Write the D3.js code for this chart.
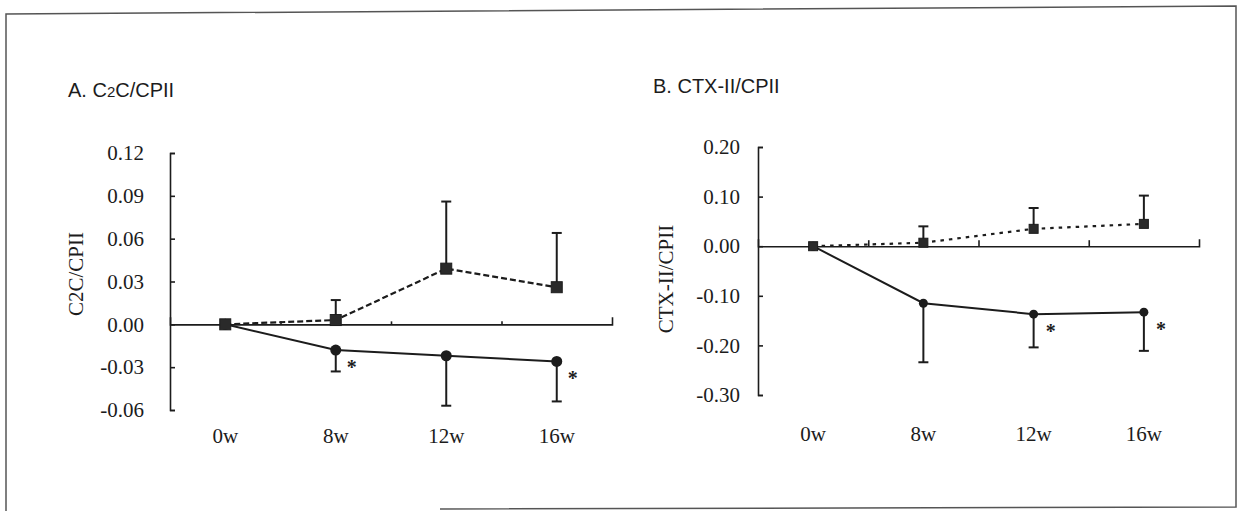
<!DOCTYPE html>
<html>
<head>
<meta charset="utf-8">
<script src="https://cdn.jsdelivr.net/npm/d3@7"></script>
<style>
  body { margin: 0; background: #fff; }
  svg { display: block; }
</style>
</head>
<body>
<div id="chart"></div>
<script>
// time points
var weeks = ["0w", "8w", "12w", "16w"];

// panel A : C2C/CPII
var c2cCtrl = [0, 0.003, 0.039, 0.026];      // dashed, squares
var c2cCtrlSD = [0, 0.014, 0.047, 0.038];
var c2cTreat = [0, -0.018, -0.022, -0.026];  // solid, circles
var c2cTreatSD = [0, 0.015, 0.035, 0.028];
var c2cStars = [false, true, false, true];
var c2cTicks = [-0.06, -0.03, 0, 0.03, 0.06, 0.09, 0.12];

// panel B : CTX-II/CPII
var ctxCtrl = [0, 0.007, 0.035, 0.045];       // dotted, squares
var ctxCtrlSD = [0, 0.033, 0.042, 0.057];
var ctxTreat = [0, -0.115, -0.137, -0.133];   // solid, circles
var ctxTreatSD = [0, 0.119, 0.067, 0.078];
var ctxStars = [false, false, true, true];
var ctxTicks = [-0.30, -0.20, -0.10, 0, 0.10, 0.20];

var ink = "#1c1c1c";
var serif = "'Liberation Serif', 'Times New Roman', serif";
var sans = "'Liberation Sans', Arial, sans-serif";

var svg = d3.select("#chart").append("svg")
  .attr("width", 1238)
  .attr("height", 511);

// scanned page frame
svg.append("path")
  .attr("d", "M6,511 L6,14 L1236,6 L1236,507 L440,509")
  .attr("fill", "none")
  .attr("stroke", "#555")
  .attr("stroke-width", 1.5);

function drawPanel(opt) {
  var x = d3.scaleBand().domain(weeks).range([opt.x0, opt.x1]);
  var y = d3.scaleLinear().domain(opt.domain).range([opt.yBottom, opt.yTop]);
  var g = svg.append("g");

  //title
  var t = g.append("text")
    .attr("x", opt.titleX)
    .attr("y", opt.titleY)
    .attr("font-family", sans)
    .attr("font-size", 20)
    .attr("fill", ink);
  opt.title.forEach(function(p) {
    t.append("tspan").attr("font-size", p.small ? 15 : 20).text(p.t);
  });

  //y axis, ticks pointing inward
  var yAxis = g.append("g")
    .attr("transform", "translate(" + opt.x0 + ",0)")
    .call(d3.axisLeft(y).tickValues(opt.ticks)
      .tickFormat(function(d) { return d3.format(".2f")(d).replace("−", "-"); })
      .tickSizeInner(-5).tickSizeOuter(-5).tickPadding(opt.tickPad));
  yAxis.selectAll("path, line").attr("stroke", ink).attr("stroke-width", 1.6);
  yAxis.selectAll("text")
    .attr("font-family", serif)
    .attr("font-size", 21)
    .attr("fill", ink);

  //zero line with band boundary ticks
  var b = d3.scaleLinear().domain([0, weeks.length]).range([opt.x0, opt.x1]);
  var zAxis = g.append("g")
    .attr("transform", "translate(0," + y(0) + ")")
    .call(d3.axisTop(b).tickValues([1, 2, 3]).tickFormat("")
      .tickSizeInner(opt.minorTick).tickSizeOuter(7));
  zAxis.selectAll("path, line").attr("stroke", ink).attr("stroke-width", 1.6);

  //x labels
  var xAxis = g.append("g")
    .attr("transform", "translate(0," + opt.yBottom + ")")
    .call(d3.axisBottom(x).tickSize(0).tickPadding(opt.xPad));
  xAxis.select(".domain").remove();
  xAxis.selectAll("text")
    .attr("font-family", serif)
    .attr("font-size", 21)
    .attr("fill", ink);

  //y label
  g.append("text")
    .attr("transform", "translate(" + opt.labelX + "," + opt.labelY + ") rotate(-90)")
    .attr("text-anchor", "middle")
    .attr("font-family", serif)
    .attr("font-size", 21)
    .attr("fill", ink)
    .text(opt.yLabel);

  var pts = function(vals, sds) {
    return vals.map(function(v, i) {
      return {v: v, sd: sds[i], star: opt.stars[i], cx: x(weeks[i]) + x.bandwidth() / 2};
    });
  };
  var ctrl = pts(opt.ctrl, opt.ctrlSD);
  var treat = pts(opt.treat, opt.treatSD);

  var line = d3.line()
    .x(function(d) { return d.cx; })
    .y(function(d) { return y(d.v); });

  g.append("path")
    .datum(ctrl)
    .attr("d", line)
    .attr("fill", "none")
    .attr("stroke", ink)
    .attr("stroke-width", 2.2)
    .attr("stroke-dasharray", opt.dash);

  g.append("path")
    .datum(treat)
    .attr("d", line)
    .attr("fill", "none")
    .attr("stroke", ink)
    .attr("stroke-width", 2);

  //error bars, control goes up and treatment goes down
  function bars(data, dir) {
    var eb = g.append("g").selectAll("g")
      .data(data.filter(function(d) { return d.sd > 0; }))
      .enter().append("g");
    eb.append("line")
      .attr("x1", function(d) { return d.cx; })
      .attr("x2", function(d) { return d.cx; })
      .attr("y1", function(d) { return y(d.v); })
      .attr("y2", function(d) { return y(d.v + dir * d.sd); })
      .attr("stroke", ink).attr("stroke-width", 2);
    eb.append("line")
      .attr("x1", function(d) { return d.cx - 5; })
      .attr("x2", function(d) { return d.cx + 5; })
      .attr("y1", function(d) { return y(d.v + dir * d.sd); })
      .attr("y2", function(d) { return y(d.v + dir * d.sd); })
      .attr("stroke", ink).attr("stroke-width", 2);
  }
  bars(ctrl, 1);
  bars(treat, -1);

  g.append("g").selectAll("circle")
    .data(treat)
    .enter().append("circle")
    .attr("cx", function(d) { return d.cx; })
    .attr("cy", function(d) { return y(d.v); })
    .attr("r", opt.r)
    .attr("fill", ink);

  g.append("g").selectAll("rect")
    .data(ctrl)
    .enter().append("rect")
    .attr("x", function(d) { return d.cx - opt.sq / 2; })
    .attr("y", function(d) { return y(d.v) - opt.sq / 2; })
    .attr("width", opt.sq)
    .attr("height", opt.sq)
    .attr("fill", "#2a2a2a")
    .attr("stroke", ink)
    .attr("stroke-width", 1);

  //significance marks
  g.append("g").selectAll("text")
    .data(treat.filter(function(d) { return d.star; }))
    .enter().append("text")
    .attr("x", function(d) { return d.cx + opt.starDx; })
    .attr("y", function(d) { return y(d.v) + 24; })
    .attr("text-anchor", "middle")
    .attr("font-family", serif)
    .attr("font-size", 20)
    .attr("font-weight", "bold")
    .attr("fill", ink)
    .text("*");
}

drawPanel({
  x0: 170, x1: 612, yTop: 153, yBottom: 410,
  domain: [-0.06, 0.12], ticks: c2cTicks, tickPad: 26,
  ctrl: c2cCtrl, ctrlSD: c2cCtrlSD, treat: c2cTreat, treatSD: c2cTreatSD,
  stars: c2cStars, starDx: 16,
  dash: "6,3", r: 5.5, sq: 11, minorTick: 3, xPad: 18,
  title: [{t: "A. C"}, {t: "2", small: true}, {t: "C/CPII"}],
  titleX: 68, titleY: 97,
  yLabel: "C2C/CPII", labelX: 83, labelY: 274
});

drawPanel({
  x0: 758, x1: 1199, yTop: 147, yBottom: 395,
  domain: [-0.30, 0.20], ticks: ctxTicks, tickPad: 18,
  ctrl: ctxCtrl, ctrlSD: ctxCtrlSD, treat: ctxTreat, treatSD: ctxTreatSD,
  stars: ctxStars, starDx: 17,
  dash: "3.5,5", r: 4.5, sq: 9, minorTick: 6, xPad: 31,
  title: [{t: "B. CTX-II/CPII"}],
  titleX: 653, titleY: 93,
  yLabel: "CTX-II/CPII", labelX: 673, labelY: 279
});
</script>
</body>
</html>
